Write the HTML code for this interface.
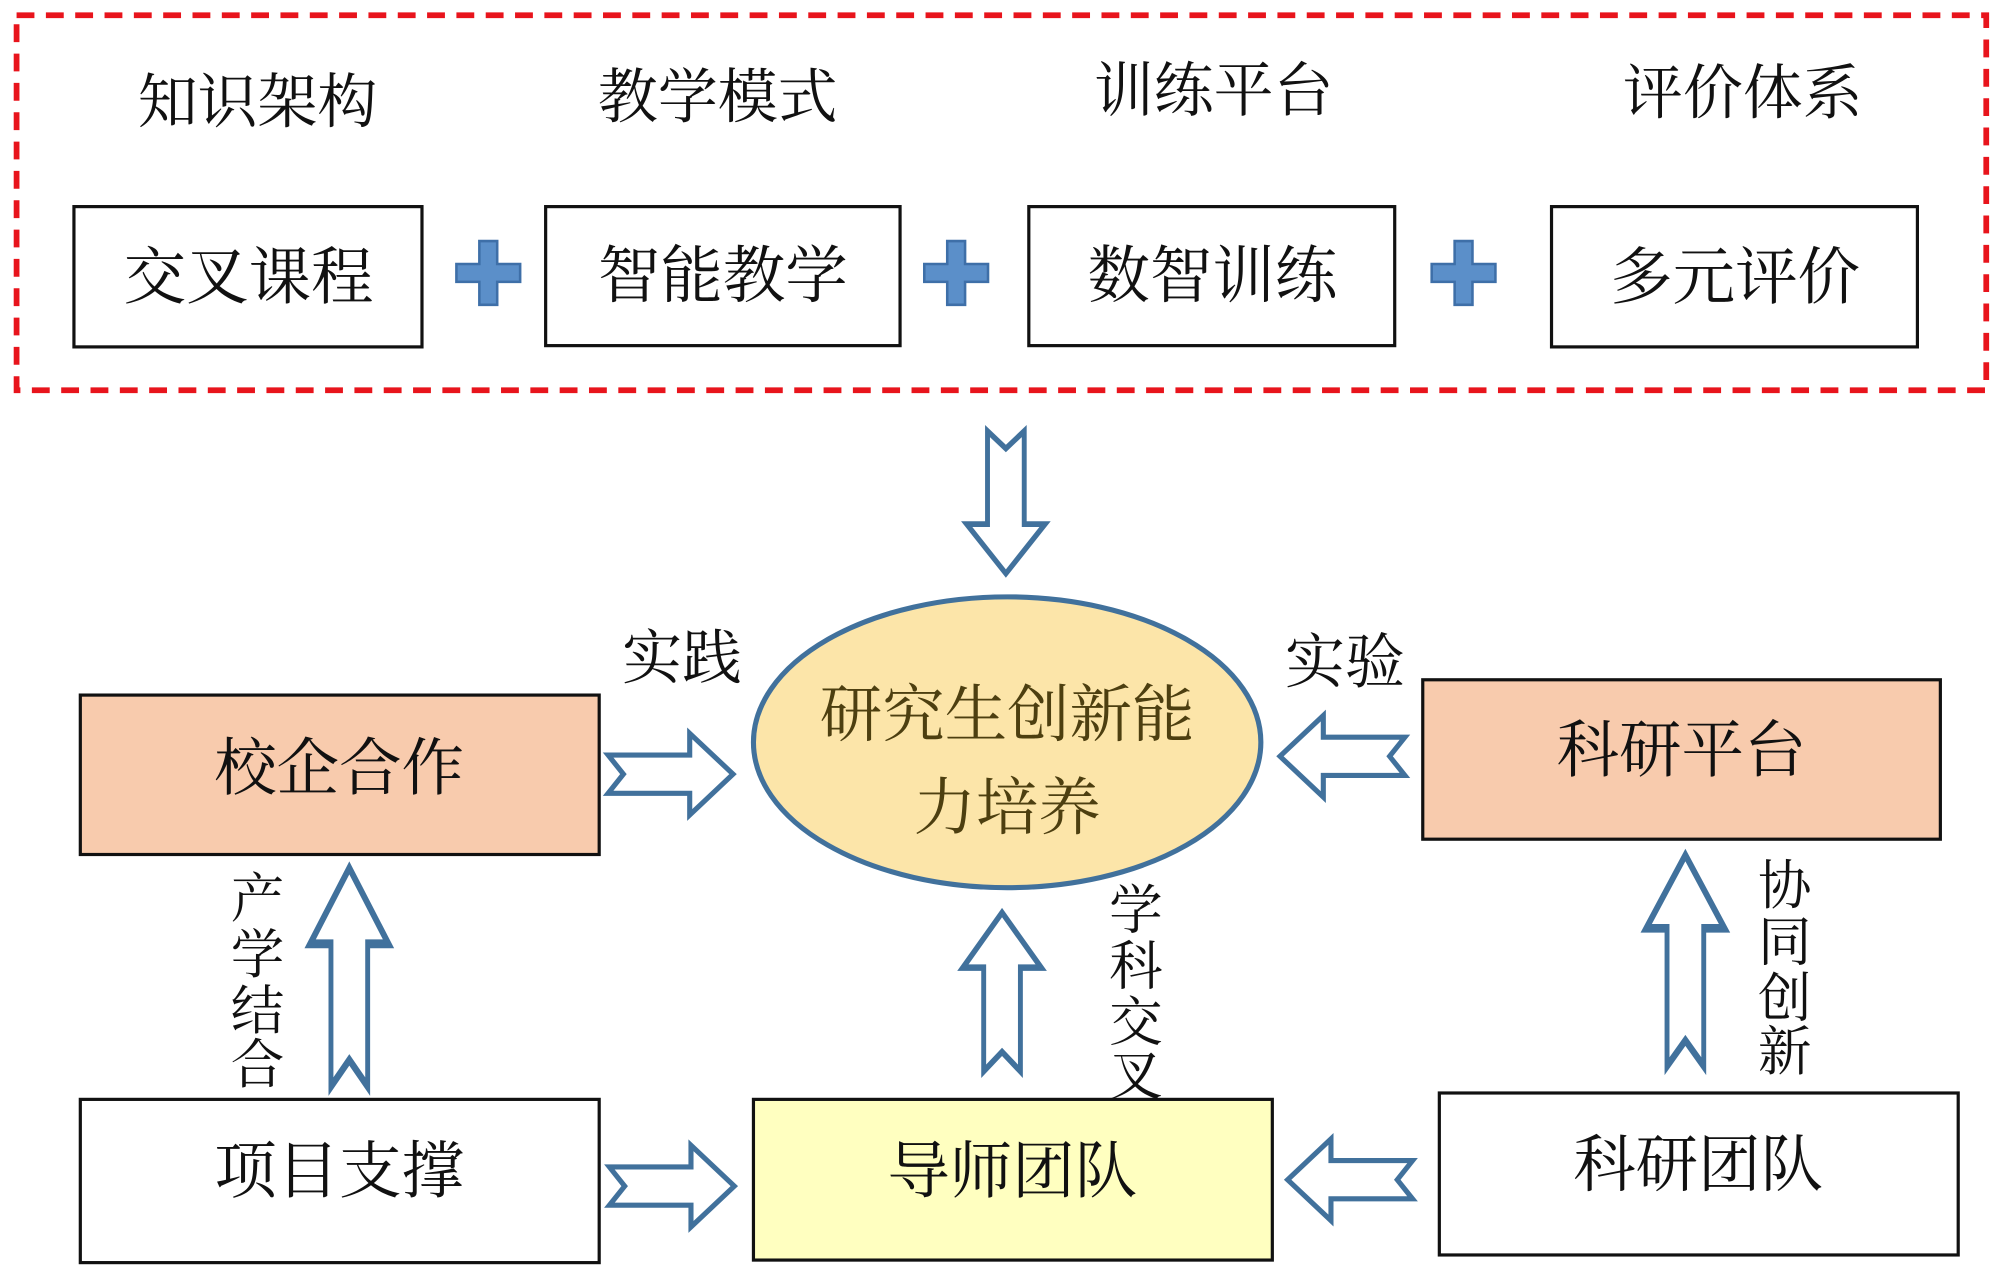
<!DOCTYPE html>
<html><head><meta charset="utf-8"><style>
html,body{margin:0;padding:0;background:#fff;}
svg{display:block;}
text{font-family:"Liberation Serif","Noto Serif CJK SC",serif;fill:#111;}
</style></head><body>
<svg width="1999" height="1269" viewBox="0 0 1568 995" preserveAspectRatio="none" xmlns="http://www.w3.org/2000/svg">
<defs>
<polygon id="ar" points="0,-15 64,-15 64,-32 98,0 64,32 64,15 0,15 12,0" fill="#fff" stroke="#41719c" stroke-width="4" stroke-linejoin="miter"/>
<g id="plus"><path d="M-7,-25 H7 V-7 H25 V7 H7 V25 H-7 V7 H-25 V-7 H-7 Z" fill="#5b8fc9" stroke="#3e6fa8" stroke-width="2"/></g>
</defs>
<rect x="13" y="12" width="1545" height="294" fill="none" stroke="#e8141c" stroke-width="4.5" stroke-dasharray="14,9"/>
<g font-size="47" text-anchor="middle">
<text x="202" y="96">知识架构</text>
<text x="563" y="92">教学模式</text>
<text x="952" y="87">训练平台</text>
<text x="1367" y="89">评价体系</text>
</g>
<g fill="#fff" stroke="#111" stroke-width="2.5">
<rect x="58" y="162" width="273" height="110"/>
<rect x="428" y="162" width="278" height="109"/>
<rect x="807" y="162" width="287" height="109"/>
<rect x="1217" y="162" width="287" height="110"/>
</g>
<g font-size="49" text-anchor="middle">
<text x="195" y="234">交叉课程</text>
<text x="567" y="233">智能教学</text>
<text x="951" y="233">数智训练</text>
<text x="1361" y="234">多元评价</text>
</g>
<use href="#plus" x="383" y="214"/>
<use href="#plus" x="750" y="214"/>
<use href="#plus" x="1148" y="214"/>

<use href="#ar" transform="translate(789,338) rotate(90) scale(1.14,0.96)"/>

<ellipse cx="790" cy="582" rx="199" ry="114" fill="#fce5a9" stroke="#41719c" stroke-width="4"/>
<g font-size="49" text-anchor="middle">
<text x="790" y="577" style="fill:#4d3f10">研究生创新能</text>
<text x="790" y="650" style="fill:#4d3f10">力培养</text>
</g>
<g font-size="47" text-anchor="middle">
<text x="535" y="532">实践</text>
<text x="1055" y="535">实验</text>
</g>

<rect x="63" y="545" width="407" height="125" fill="#f8cbad" stroke="#111" stroke-width="2.5"/>
<rect x="1116" y="533" width="406" height="125" fill="#f8cbad" stroke="#111" stroke-width="2.5"/>
<rect x="63" y="862" width="407" height="128" fill="#fff" stroke="#111" stroke-width="2.5"/>
<rect x="591" y="862" width="407" height="126" fill="#ffffc0" stroke="#111" stroke-width="2.5"/>
<rect x="1129" y="857" width="407" height="127" fill="#fff" stroke="#111" stroke-width="2.5"/>
<g font-size="49" text-anchor="middle">
<text x="266" y="619">校企合作</text>
<text x="1319" y="605">科研平台</text>
<text x="266" y="935">项目支撑</text>
<text x="794" y="935">导师团队</text>
<text x="1332" y="930">科研团队</text>
</g>

<use href="#ar" transform="translate(477,607)"/>
<use href="#ar" transform="translate(1102,593) rotate(180)"/>
<use href="#ar" transform="translate(478,930)"/>
<use href="#ar" transform="translate(1108,925) rotate(180)"/>
<use href="#ar" transform="translate(274,852) rotate(-90) scale(1.75,0.96)"/>
<use href="#ar" transform="translate(786,840) rotate(-90) scale(1.27,0.96)"/>
<use href="#ar" transform="translate(1322,836) rotate(-90) scale(1.69,0.96)"/>

<g font-size="42" text-anchor="middle">
<text x="202" y="719">产</text><text x="202" y="763">学</text><text x="202" y="807">结</text><text x="202" y="849">合</text>
<text x="891" y="728">学</text><text x="891" y="772">科</text><text x="891" y="816">交</text><text x="891" y="858">叉</text>
<text x="1400" y="709">协</text><text x="1400" y="753">同</text><text x="1400" y="797">创</text><text x="1400" y="839">新</text>
</g>
</svg>
</body></html>
